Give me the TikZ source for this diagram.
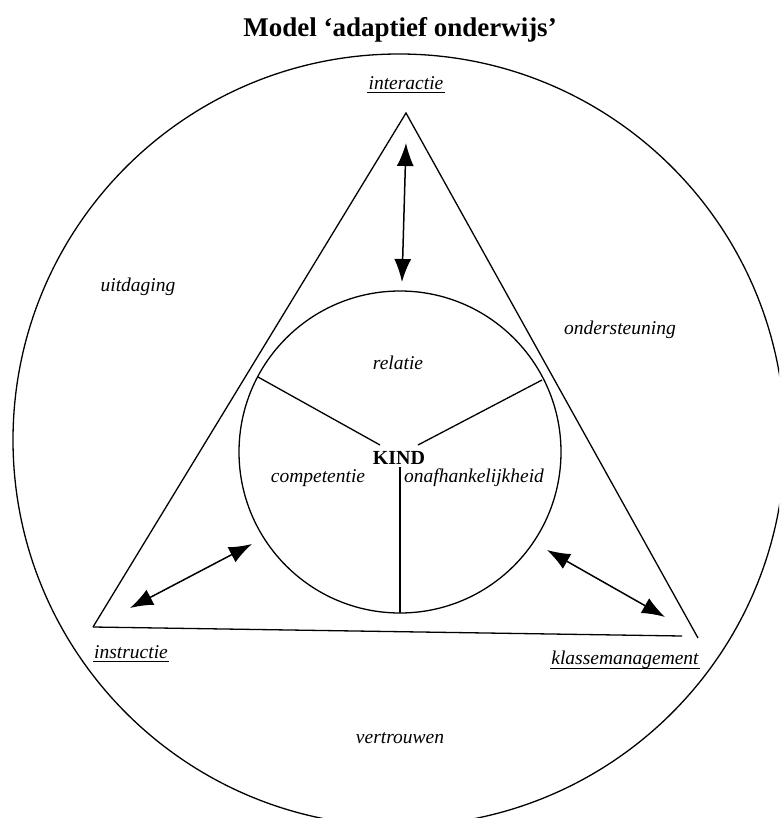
\documentclass[tikz,border=0pt]{standalone}
\usepackage{fontspec}
\setmainfont{Liberation Serif}
\usetikzlibrary{arrows.meta}
\tikzset{
  lbl/.style={font=\fontsize{19.5}{22}\selectfont\itshape, inner sep=0pt},
  ulbl/.style={lbl, text depth=0.22em, inner sep=1pt},
  uline/.style={line width=1.1pt},
  shape line/.style={line width=1.3pt},
  dblarrow/.style={line width=1.5pt, {Latex[length=23pt,width=17pt]}-{Latex[length=23pt,width=17pt]}}
}
\begin{document}
\begin{tikzpicture}[x=1pt,y=-1pt]
\useasboundingbox (0,0) rectangle (779,818);
\clip (0,0) rectangle (779,818);
\fill[white] (0,0) rectangle (779,818);

% title
\node[font=\fontsize{27}{30}\selectfont\bfseries, inner sep=0pt] (title) at (400,30) {Model ‘adaptief onderwijs’};

% outer circle
\node[draw, shape line, circle, minimum size=772pt, inner sep=0pt] (outer) at (399,440) {};

% triangle
\coordinate (A) at (406,113);
\coordinate (B) at (93,627);
\coordinate (Cc) at (698,638);
\coordinate (Bend) at (682,636);
\draw[shape line] (B) -- (A) -- (Cc);
\draw[shape line] (B) -- (Bend);

% inner circle
\node[draw, shape line, circle, minimum size=322pt, inner sep=0pt] (inner) at (400,452) {};

% KIND and dividers
\node[font=\fontsize{20}{22}\selectfont\bfseries, inner sep=0pt] (kind) at (399,458) {KIND};
\coordinate (dL) at (258,377);
\coordinate (dR) at (542,380);
\coordinate (dB) at (400,613);
\coordinate (kL) at (380,445);
\coordinate (kR) at (418,445);
\coordinate (kB) at (400,467);
\draw[shape line] (dL) -- (kL);
\draw[shape line] (dR) -- (kR);
\draw[shape line] (kB) -- (dB);

% labels inside inner circle
\node[lbl] (relatie) at (398,363) {relatie};
\node[lbl] (comp) at (318,478) {competentie};
\node[lbl, anchor=west] (onaf) at (404,478) {onafhankelijkheid};

% outer labels
\node[lbl] (uitd) at (138,287) {uitdaging};
\node[lbl] (onder) at (620,330) {ondersteuning};
\node[lbl] (vertr) at (400,738) {vertrouwen};

% underlined corner labels
\node[ulbl] (inter) at (406,84) {interactie};
\draw[uline] (inter.south west) -- (inter.south east);
\node[ulbl] (instr) at (131,653) {instructie};
\draw[uline] (instr.south west) -- (instr.south east);
\node[ulbl] (klas) at (625,659) {klassemanagement};
\draw[uline] (klas.south west) -- (klas.south east);

% arrows
\coordinate (t1) at (406,143);
\coordinate (t2) at (402,282);
\coordinate (l1) at (252,544);
\coordinate (l2) at (130,608);
\coordinate (r1) at (547,550);
\coordinate (r2) at (665,617);
\draw[dblarrow] (t1) -- (t2);
\draw[dblarrow] (l1) -- (l2);
\draw[dblarrow] (r1) -- (r2);
\end{tikzpicture}
\end{document}
